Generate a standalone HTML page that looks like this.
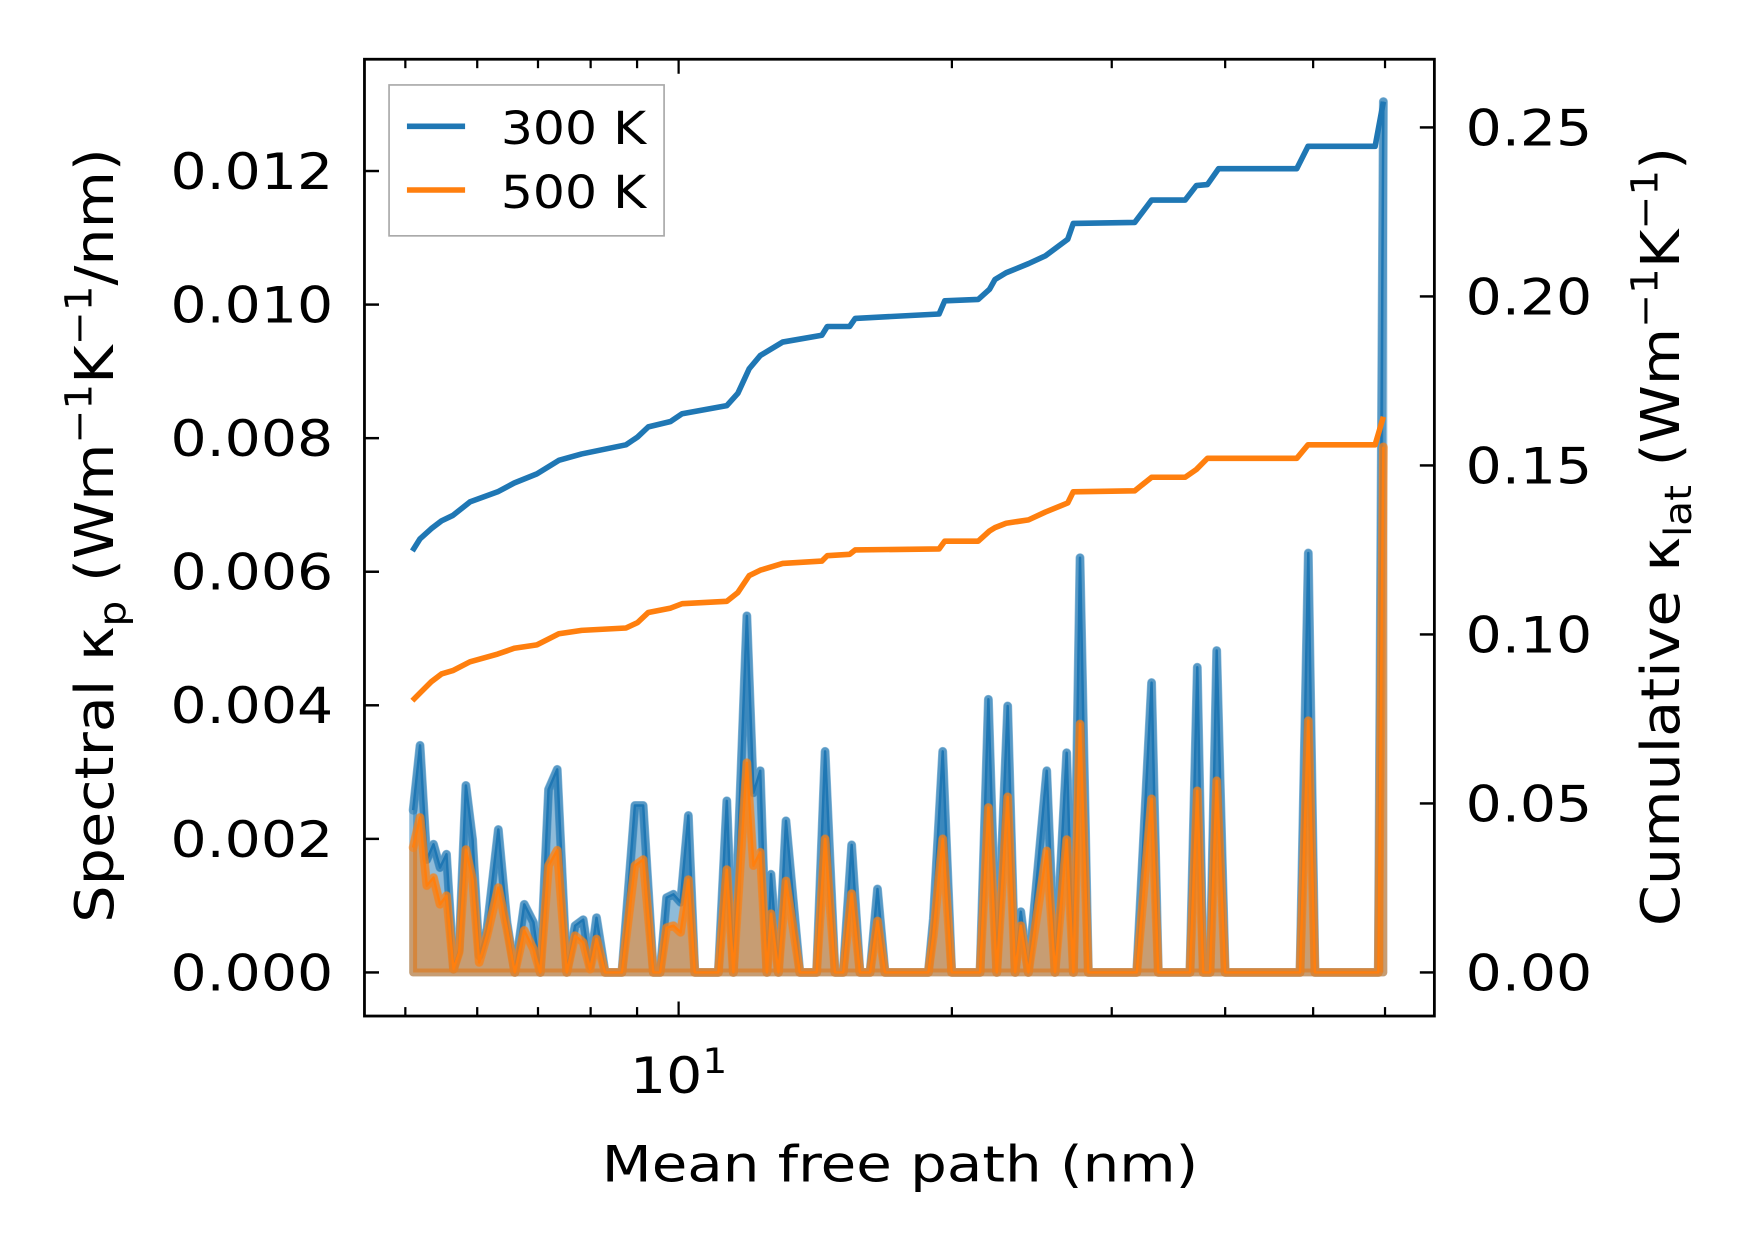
<!DOCTYPE html>
<html><head><meta charset="utf-8">
<style>
html,body{margin:0;padding:0;background:#fff;}
svg{display:block;}
text{font-family:"DejaVu Sans","Liberation Sans",sans-serif;fill:#000;}
</style></head>
<body>
<svg id="chart" width="1753" height="1253" viewBox="0 0 1568 1121" preserveAspectRatio="none" xmlns="http://www.w3.org/2000/svg">
<rect width="1568" height="1121" fill="#fff"/>
<g id="plot"></g>
<g id="axes"></g>
</svg>
<script>
// Spectral data (x: mean free path, nm; y: W m^-1 K^-1 / nm, in units of 1e-3)
const specX = [5.10,5.19,5.28,5.37,5.46,5.55,5.65,5.73,5.83,5.93,6.03,6.15,6.33,6.47,6.60,6.76,6.92,7.04,7.19,7.35,7.53,7.69,7.85,7.99,8.12,8.30,8.66,8.95,9.14,9.38,9.54,9.70,9.87,10.05,10.25,10.42,11.06,11.30,11.49,11.89,12.09,12.30,12.51,12.64,12.88,13.13,13.60,14.19,14.50,14.87,15.18,15.51,15.84,16.25,16.56,16.88,18.84,19.08,19.54,19.99,21.48,21.94,22.41,23.04,23.48,23.82,24.28,25.44,25.98,26.76,27.22,27.68,28.27,31.96,33.19,33.76,36.58,37.27,37.84,38.49,39.15,40.00,48.36,49.39,50.23,58.99,59.75];
const spec300 = [2.43,3.40,1.69,1.92,1.57,1.77,0.05,0.33,2.80,1.99,0.25,0.65,2.14,0.75,0,1.02,0.75,0,2.74,3.04,0,0.70,0.79,0.10,0.82,0,0,2.50,2.50,0,0,1.12,1.17,1.05,2.35,0,0,2.57,0,5.34,2.69,3.02,0,1.47,0,2.27,0,0,3.31,0,0,1.91,0,0,1.25,0,0,0.80,3.31,0,0,4.09,0,3.99,0,0.91,0,3.02,0,3.29,0,6.21,0,0,4.34,0,0,4.57,0,0,4.82,0,0,6.28,0,0,13.04];
const spec500 = [1.87,2.32,1.30,1.42,1.02,1.15,0.05,0.30,1.84,1.39,0.15,0.55,1.27,0.65,0,0.63,0.35,0,1.60,1.83,0,0.55,0.45,0.05,0.50,0,0,1.60,1.69,0,0,0.67,0.70,0.60,1.39,0,0,1.54,0,3.14,1.60,1.80,0,0.88,0,1.37,0,0,2.00,0,0,1.18,0,0,0.77,0,0,0.55,2.00,0,0,2.47,0,2.63,0,0.70,0,1.82,0,1.99,0,3.72,0,0,2.60,0,0,2.72,0,0,2.87,0,0,3.77,0,0,7.87];
// Cumulative data (W m^-1 K^-1)
const cumX = [5.09,5.19,5.34,5.48,5.64,5.89,6.32,6.59,6.98,7.38,7.82,8.75,9.01,9.26,9.80,10.09,11.30,11.62,11.96,12.30,13.02,14.38,14.58,15.43,15.65,19.36,19.64,21.38,22.00,22.31,22.95,24.29,25.35,26.83,27.21,31.80,33.19,36.14,37.18,38.24,39.34,47.97,49.35,58.51,59.75];
const cum300 = [0.1247,0.1283,0.1313,0.1336,0.1352,0.1392,0.1422,0.1448,0.1475,0.1515,0.1534,0.1561,0.1584,0.1614,0.1630,0.1653,0.1677,0.1713,0.1786,0.1825,0.1865,0.1885,0.1911,0.1911,0.1935,0.1948,0.1987,0.1991,0.2021,0.2050,0.2070,0.2097,0.2120,0.2169,0.2216,0.2219,0.2285,0.2285,0.2328,0.2331,0.2378,0.2378,0.2444,0.2444,0.2576];
const cum500 = [0.0804,0.0827,0.0860,0.0883,0.0893,0.0919,0.0942,0.0959,0.0969,0.1002,0.1012,0.1019,0.1035,0.1065,0.1078,0.1091,0.1098,0.1124,0.1174,0.1190,0.1210,0.1217,0.1233,0.1237,0.1250,0.1253,0.1276,0.1276,0.1306,0.1316,0.1329,0.1339,0.1362,0.1389,0.1422,0.1425,0.1465,0.1465,0.1488,0.1521,0.1521,0.1521,0.1561,0.1561,0.1644];
const leftTicks = [0,0.002,0.004,0.006,0.008,0.010,0.012];
const leftTickLabels = ["0.000","0.002","0.004","0.006","0.008","0.010","0.012"];
const rightTicks = [0,0.05,0.10,0.15,0.20,0.25];
const rightTickLabels = ["0.00","0.05","0.10","0.15","0.20","0.25"];
const minorXTicks = [5,6,7,8,9,20,30,40,50,60];

const NS="http://www.w3.org/2000/svg";
const L=326,R=1283,T=53,B=909;
function xS(v){return 607+(Math.log10(v)-1)*812;}
function yL(v){return 870-v/0.002*119.5;}
function yR(v){return 870-v/0.05*151.2;}
function mk(tag,attrs,parent){const e=document.createElementNS(NS,tag);for(const k in attrs)e.setAttribute(k,attrs[k]);parent.appendChild(e);return e;}
const plot=document.getElementById('plot'), axes=document.getElementById('axes');

function spectral(vals,color,name){
  const pts=specX.map((x,i)=>[xS(x),yL(vals[i]/1000)]);
  const poly=pts.map(p=>p.join(',')).join(' ')+` ${pts[pts.length-1][0]},${yL(0)} ${pts[0][0]},${yL(0)}`;
  const f=mk('polygon',{points:poly,fill:color,'fill-opacity':0.5,stroke:color,'stroke-opacity':0.5,'stroke-width':7,'stroke-linejoin':'round'},plot);
  
  
  const d=pts.map(p=>p.join(',')).join(' ');
  const o=mk('polyline',{points:d,fill:'none',stroke:color,'stroke-opacity':0.5,'stroke-width':8,'stroke-linejoin':'round','stroke-linecap':'round'},plot);
  
  
  const l=mk('polyline',{points:d,fill:'none',stroke:color,'stroke-width':2.2,'stroke-linejoin':'round'},plot);
  
  
}
spectral(spec300,'#1f77b4','spectral-300k');
spectral(spec500,'#ff7f0e','spectral-500k');
function cum(vals,color,name){
  const d=cumX.map((x,i)=>xS(x)+','+yR(vals[i])).join(' ');
  const l=mk('polyline',{points:d,fill:'none',stroke:color,'stroke-width':5,'stroke-linejoin':'round'},plot);
  
  
}
cum(cum300,'#1f77b4','cumulative-300k');
cum(cum500,'#ff7f0e','cumulative-500k');

const fr=mk('rect',{x:L,y:T,width:R-L,height:B-T,fill:'none',stroke:'#000','stroke-width':2.5},axes);


leftTicks.forEach((v,i)=>{
  const y=yL(v);
  mk('line',{x1:L,x2:L+13,y1:y,y2:y,stroke:'#000','stroke-width':2.2},axes);
  const t=mk('text',{transform:`translate(298,${y+16}) scale(1.13,1)`,'text-anchor':'end','font-size':45},axes);
  t.textContent=leftTickLabels[i];
  
  
});
rightTicks.forEach((v,i)=>{
  const y=yR(v);
  mk('line',{x1:R-13,x2:R,y1:y,y2:y,stroke:'#000','stroke-width':2.2},axes);
  const t=mk('text',{transform:`translate(1311,${y+16}) scale(1.13,1)`,'text-anchor':'start','font-size':45},axes);
  t.textContent=rightTickLabels[i];
  
  
});
[[10,13]].concat(minorXTicks.map(v=>[v,8])).forEach(([v,len])=>{
  const x=xS(v);
  mk('line',{x1:x,x2:x,y1:B,y2:B-len,stroke:'#000','stroke-width':2},axes);
  mk('line',{x1:x,x2:x,y1:T,y2:T+len,stroke:'#000','stroke-width':2},axes);
});
</script>
<svg style="position:absolute;left:0;top:0" width="1753" height="1253" viewBox="0 0 1568 1121" preserveAspectRatio="none" xmlns="http://www.w3.org/2000/svg">
<text transform="translate(607,978) scale(1.13,1)" text-anchor="middle" font-size="45" style="font-family:'DejaVu Sans',sans-serif">10<tspan font-size="31" dy="-18">1</tspan></text>
<text transform="translate(805,1057) scale(1.15,1)" text-anchor="middle" font-size="45" style="font-family:'DejaVu Sans',sans-serif">Mean free path (nm)</text>
<text transform="translate(101,479) rotate(-90) scale(1.17,1.07)" text-anchor="middle" font-size="45" style="font-family:'DejaVu Sans',sans-serif">Spectral κ<tspan font-size="31" dy="10">p</tspan><tspan dy="-10"> (Wm</tspan><tspan font-size="31" dy="-18">−1</tspan><tspan dy="18">K</tspan><tspan font-size="31" dy="-18">−1</tspan><tspan dy="18">/nm)</tspan></text>
<text transform="translate(1502,480) rotate(-90) scale(1.17,1.07)" text-anchor="middle" font-size="45" style="font-family:'DejaVu Sans',sans-serif">Cumulative κ<tspan font-size="31" dy="10">lat</tspan><tspan dy="-10"> (Wm</tspan><tspan font-size="31" dy="-18">−1</tspan><tspan dy="18">K</tspan><tspan font-size="31" dy="-18">−1</tspan><tspan dy="18">)</tspan></text>
<g>
<rect x="348" y="76" width="246" height="135" fill="#fff" fill-opacity="0.8" stroke="#aaa" stroke-width="1.5"/>
<line x1="364" x2="416" y1="113" y2="113" stroke="#1f77b4" stroke-width="5"/>
<text transform="translate(448,129) scale(1.1,1)" font-size="41" style="font-family:'DejaVu Sans',sans-serif">300 K</text>
<line x1="364" x2="416" y1="170" y2="170" stroke="#ff7f0e" stroke-width="5"/>
<text transform="translate(448,186) scale(1.1,1)" font-size="41" style="font-family:'DejaVu Sans',sans-serif">500 K</text>
</g>
</svg>
</body></html>
